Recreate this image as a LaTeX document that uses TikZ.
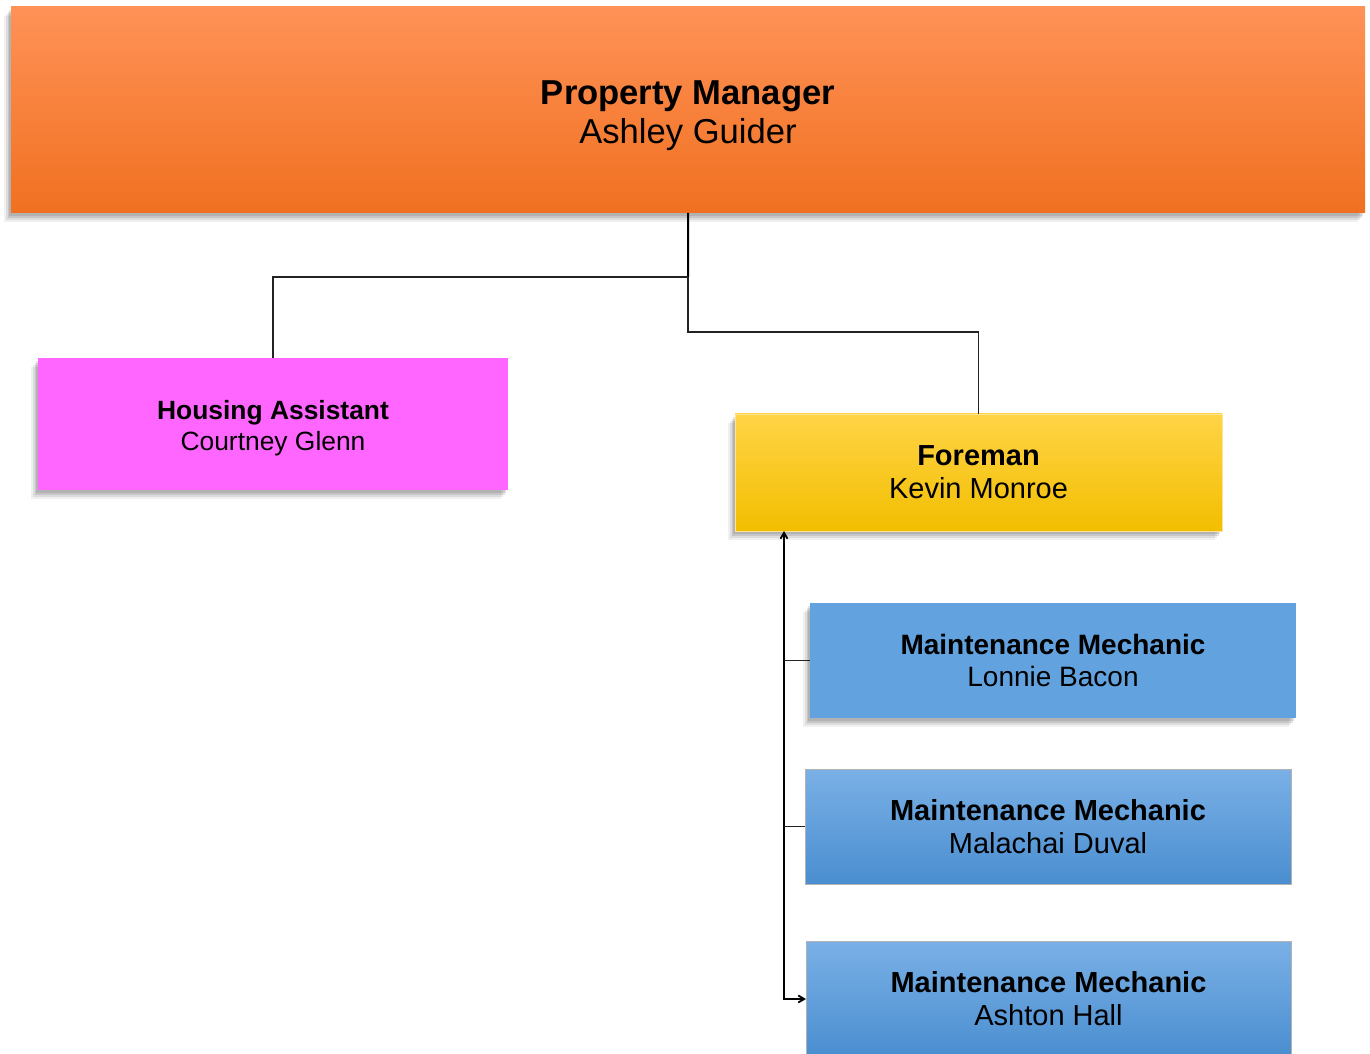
\documentclass[tikz,border=0pt]{standalone}
\usepackage{fontspec}
\setmainfont{Liberation Sans}
\usetikzlibrary{arrows.meta}
\definecolor{pmtop}{HTML}{FF9257}
\definecolor{pmmid}{HTML}{FE8431}
\definecolor{pmbot}{HTML}{F07020}
\definecolor{hafill}{HTML}{FF66FF}
\definecolor{fmtop}{HTML}{FFD447}
\definecolor{fmmid}{HTML}{FFCC00}
\definecolor{fmbot}{HTML}{F2BE00}
\definecolor{mmflat}{HTML}{62A3DF}
\definecolor{mmtop}{HTML}{7AB0E6}
\definecolor{mmmid}{HTML}{5AA2E6}
\definecolor{mmbot}{HTML}{4A8ED0}
\definecolor{lineclr}{HTML}{222222}
\begin{document}
\begin{tikzpicture}[x=1bp,y=1bp,
  box/.style={inner sep=0pt, outer sep=0pt, align=center, anchor=north west, text=black},
  shad/.style={
    preaction={fill=black, opacity=0.06, transform canvas={xshift=-7bp, yshift=-9bp}},
    preaction={fill=black, opacity=0.08, transform canvas={xshift=-5bp, yshift=-7bp}},
    preaction={fill=black, opacity=0.10, transform canvas={xshift=-3bp, yshift=-5bp}},
    preaction={fill=black, opacity=0.10, transform canvas={xshift=-2bp, yshift=-3bp}}},
  pmbox/.style={box, shad, top color=pmtop, middle color=pmmid, bottom color=pmbot,
    font=\fontsize{34.6bp}{39bp}\selectfont},
  habox/.style={box, shad, fill=hafill, font=\fontsize{26.4bp}{31bp}\selectfont},
  fmbox/.style={box, shad, draw=fmtop!60!white, top color=fmtop, middle color=fmmid, bottom color=fmbot,
    font=\fontsize{29bp}{33bp}\selectfont},
  mmflatbox/.style={box, shad, fill=mmflat, font=\fontsize{28bp}{32bp}\selectfont},
  mmgradbox/.style={box, draw=black!30, top color=mmtop, middle color=mmmid, bottom color=mmbot,
    font=\fontsize{29bp}{33bp}\selectfont},
  conn/.style={draw=lineclr, line width=1.2bp},
  thick conn/.style={draw=black, line width=2bp}
]
\useasboundingbox (0,0) rectangle (1370,1053);
\clip (0,0) rectangle (1370,1053);

\node[pmbox, minimum width=1354bp, minimum height=206bp] (pm) at (11,1046)
  {\rule{0pt}{36bp}\textbf{Property Manager}\\Ashley Guider};
\node[habox, minimum width=470bp, minimum height=132bp] (ha) at (38,695)
  {\rule{0pt}{27bp}\textbf{Housing Assistant}\\Courtney Glenn};
\node[fmbox, minimum width=487bp, minimum height=117bp] (fm) at (735,639)
  {\textbf{Foreman}\\Kevin Monroe};
\node[mmflatbox, minimum width=486bp, minimum height=115bp] (mm1) at (810,450)
  {\textbf{Maintenance Mechanic}\\Lonnie Bacon};
\node[mmgradbox, minimum width=486bp, minimum height=115bp] (mm2) at (805,284)
  {\textbf{Maintenance Mechanic}\\Malachai Duval};
\node[mmgradbox, minimum width=485bp, minimum height=116bp] (mm3) at (806,112)
  {\textbf{Maintenance Mechanic}\\Ashton Hall};

\coordinate (j1) at (688,776);
\coordinate (j2) at (688,721);
\coordinate (spine) at (784,0);

\draw[thick conn] (pm.south) -- (j1);
\draw[conn] (j1) -| (ha.north);
\draw[conn] (j1) -- (j2) -| (fm.north);

\draw[conn, line width=1.8bp, draw=black, {Straight Barb[length=6bp, width=7bp]}-{Straight Barb[length=6bp, width=7bp]}]
  (fm.south -| spine) -- (mm3.west -| spine) -- (mm3.west);
\draw[conn] (mm1.west -| spine) -- (mm1.west);
\draw[conn] (mm2.west -| spine) -- (mm2.west);
\end{tikzpicture}
\end{document}
